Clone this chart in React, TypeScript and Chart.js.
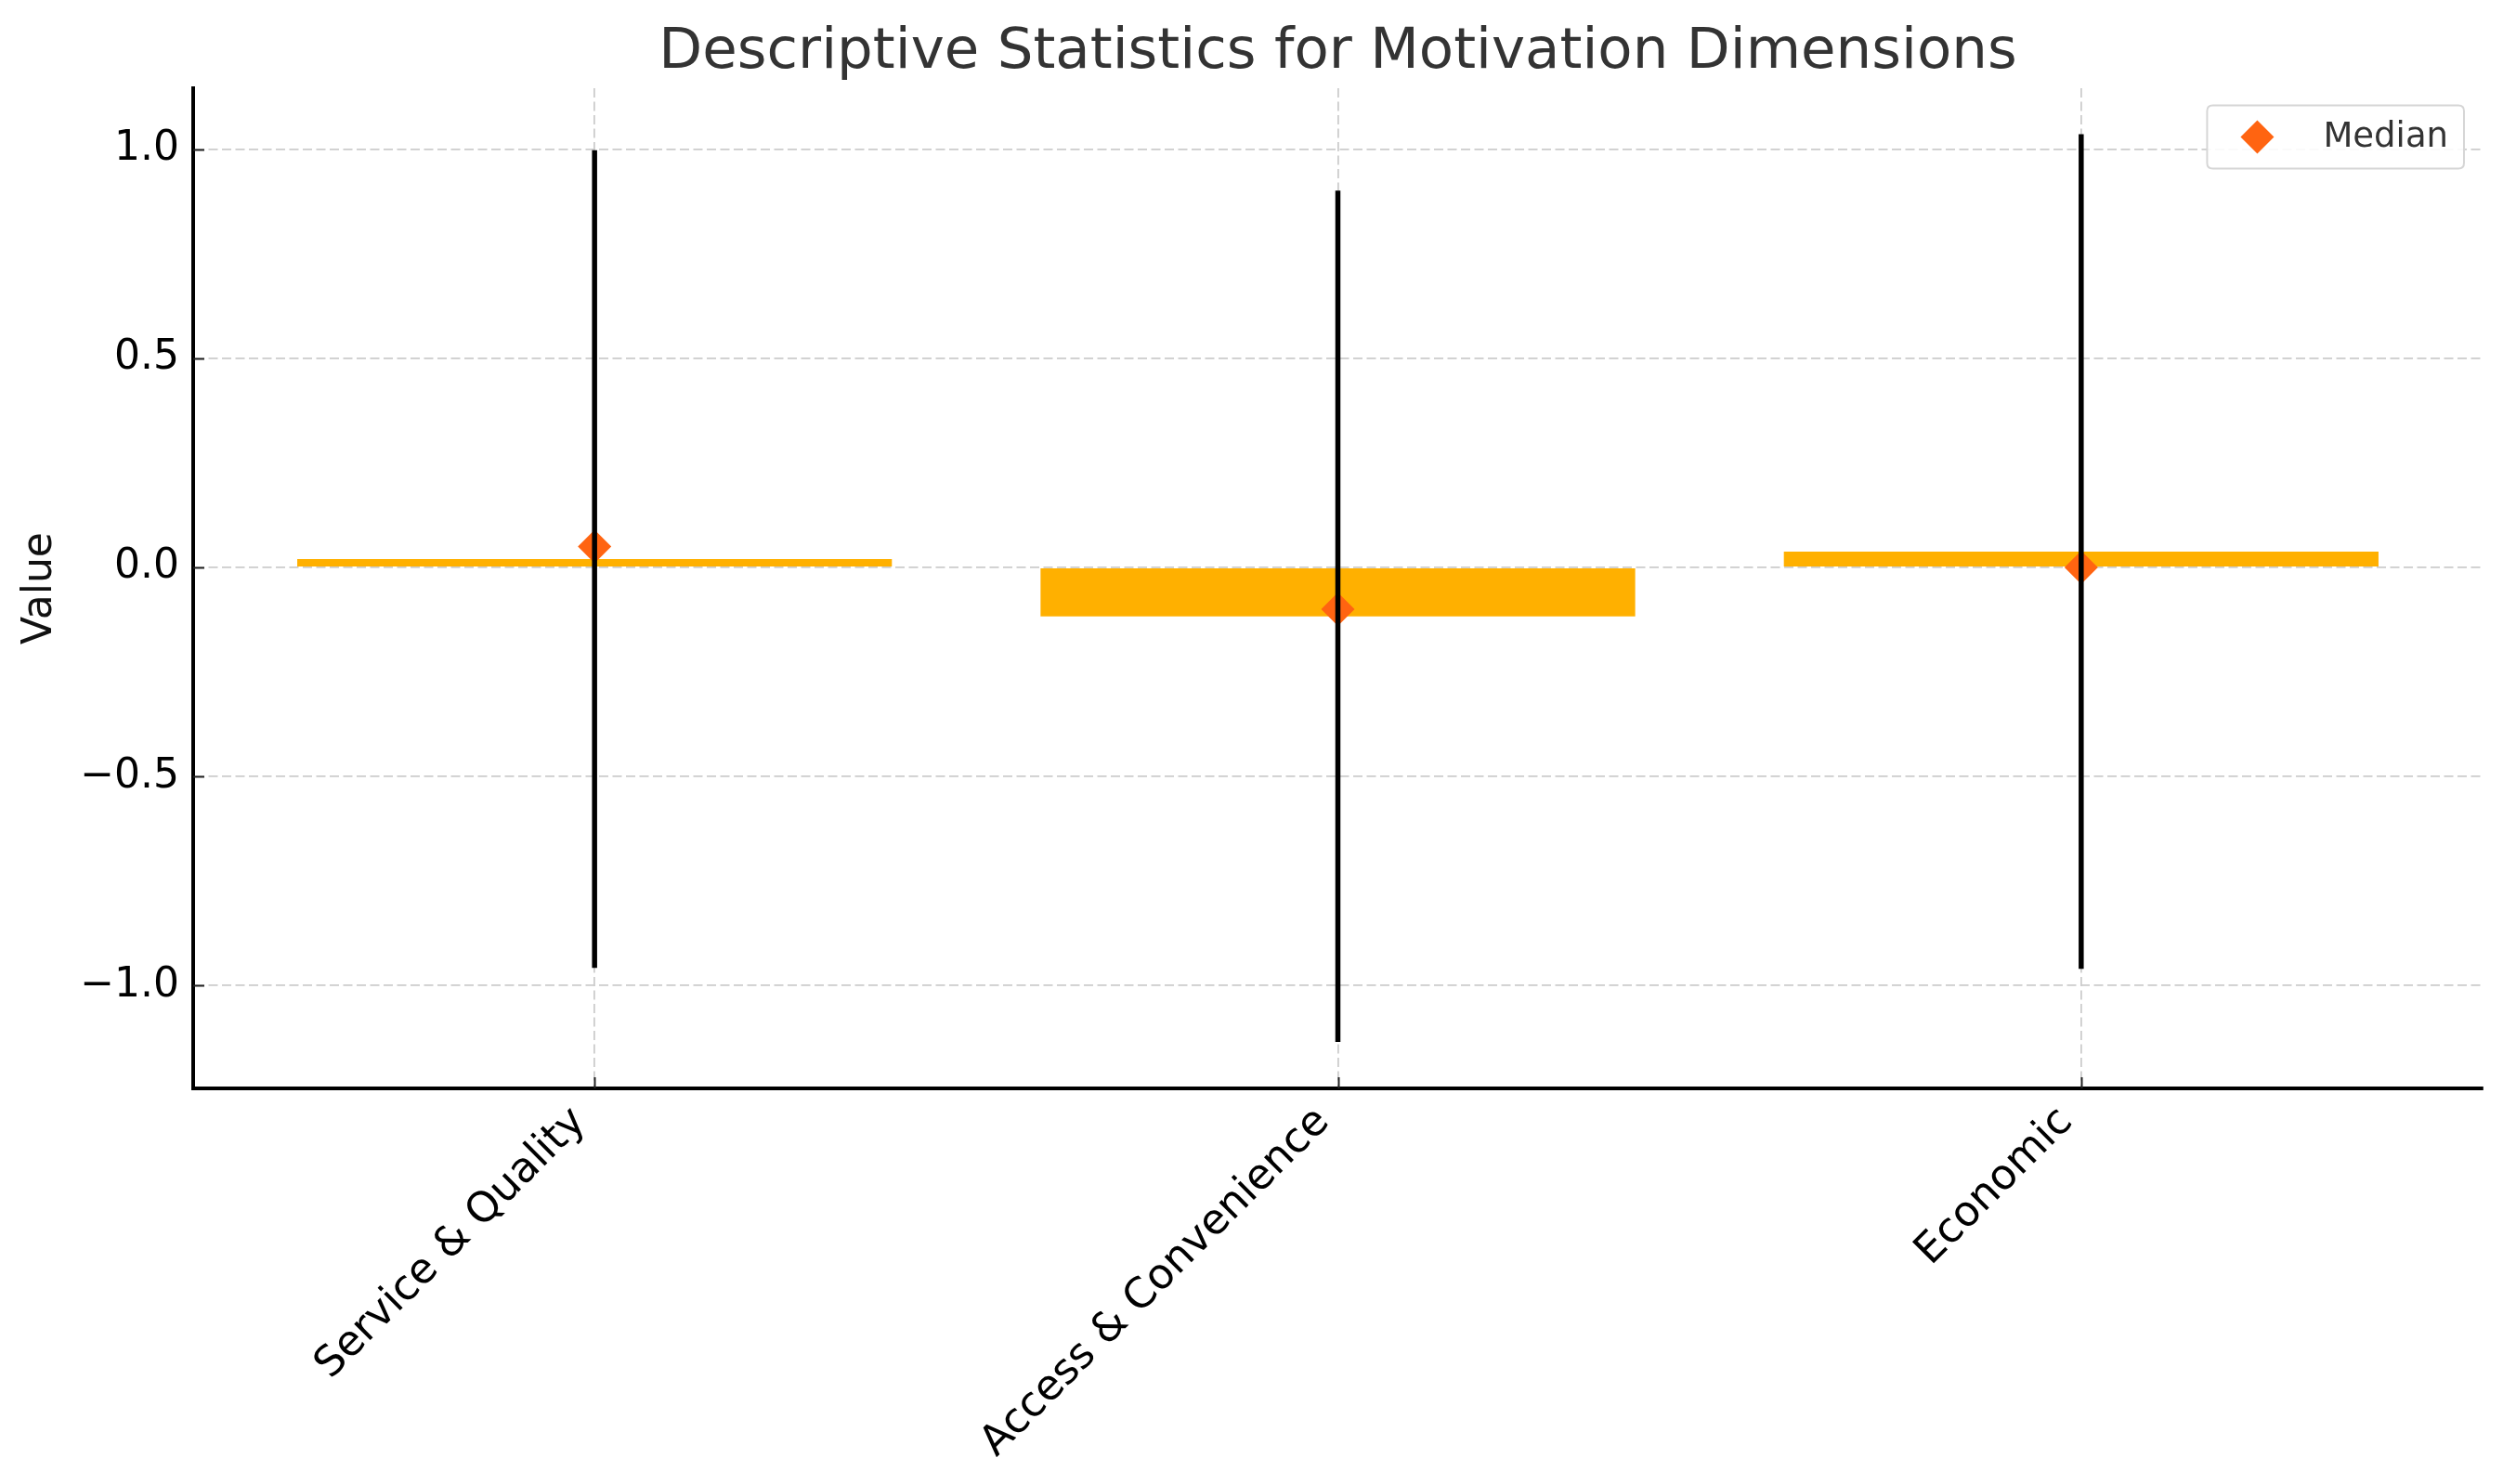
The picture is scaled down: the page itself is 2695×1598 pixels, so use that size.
import React, { useEffect, useRef } from 'react';
import { Chart, registerables } from 'chart.js';

Chart.register(...registerables);

// ---- data ----
const categories = ['Service & Quality', 'Access & Convenience', 'Economic'];
const means = [0.02, -0.117, 0.038];
const stdDevs = [0.978, 1.018, 0.998];
const medians = [0.05, -0.1, 0.0];
const xTickValues = [0, 1, 2];
const yTickValues = [-1.0, -0.5, 0.0, 0.5, 1.0];
const yTickLabels = ['\u22121.0', '\u22120.5', '0.0', '0.5', '1.0'];
const yLimits = [-1.246, 1.146];
const xLimits = [-0.54, 2.54];
const titleText = 'Descriptive Statistics for Motivation Dimensions';
const yAxisTitle = 'Value';
const medianLabel = 'Median';

const FONT = "'DejaVu Sans', sans-serif";

const decorPlugin = {
  id: 'decor',
  afterDraw(chart: any) {
    const ctx = chart.ctx;
    const area = chart.chartArea;
    ctx.save();

    // title centred over the plot area (matplotlib style)
    ctx.font = `61px ${FONT}`;
    ctx.fillStyle = '#333333';
    ctx.textAlign = 'center';
    ctx.textBaseline = 'middle';
    ctx.fillText(titleText, (area.left + area.right) / 2, 57);

    // inward tick marks
    ctx.strokeStyle = '#222';
    ctx.lineWidth = 2;
    const ys = chart.scales.y;
    ys.ticks.forEach((t: any) => {
      const p = Math.round(ys.getPixelForValue(t.value)) + 0.5;
      ctx.beginPath();
      ctx.moveTo(area.left, p);
      ctx.lineTo(area.left + 12, p);
      ctx.stroke();
    });
    const xs = chart.scales.x;
    xs.ticks.forEach((t: any) => {
      const p = Math.round(xs.getPixelForValue(t.value)) + 0.5;
      ctx.beginPath();
      ctx.moveTo(p, area.bottom);
      ctx.lineTo(p, area.bottom - 12);
      ctx.stroke();
    });

    // legend (matplotlib-like framed box)
    const ds = chart.data.datasets.find((d: any) => d.label === medianLabel);
    if (ds) {
      ctx.font = `37px ${FONT}`;
      const textW = ctx.measureText(ds.label).width;
      const boxW = 125 + textW + 17;
      const boxH = 68;
      const right = area.right - 20;
      const left = right - boxW;
      const top = area.top + 18.5;
      const r = 6;
      ctx.beginPath();
      ctx.moveTo(left + r, top);
      ctx.lineTo(left + boxW - r, top);
      ctx.quadraticCurveTo(left + boxW, top, left + boxW, top + r);
      ctx.lineTo(left + boxW, top + boxH - r);
      ctx.quadraticCurveTo(left + boxW, top + boxH, left + boxW - r, top + boxH);
      ctx.lineTo(left + r, top + boxH);
      ctx.quadraticCurveTo(left, top + boxH, left, top + boxH - r);
      ctx.lineTo(left, top + r);
      ctx.quadraticCurveTo(left, top, left + r, top);
      ctx.closePath();
      ctx.fillStyle = 'rgba(255,255,255,0.9)';
      ctx.fill();
      ctx.strokeStyle = '#d6d6d6';
      ctx.lineWidth = 2;
      ctx.stroke();

      const cx = left + 54;
      const cy = top + boxH / 2;
      const rad = ds.pointRadius;
      ctx.beginPath();
      ctx.moveTo(cx - rad, cy);
      ctx.lineTo(cx, cy - rad);
      ctx.lineTo(cx + rad, cy);
      ctx.lineTo(cx, cy + rad);
      ctx.closePath();
      ctx.fillStyle = ds.backgroundColor;
      ctx.fill();

      ctx.fillStyle = '#333';
      ctx.textAlign = 'left';
      ctx.textBaseline = 'middle';
      ctx.fillText(ds.label, left + 125, cy + 1);
    }
    ctx.restore();
  },
};

export default function App() {
  const canvasRef = useRef<HTMLCanvasElement | null>(null);

  useEffect(() => {
    if (!canvasRef.current) return;
    Chart.defaults.font.family = FONT;

    const barData = means.map((m, i) => ({ x: xTickValues[i], y: m }));
    const medianData = medians.map((m, i) => ({ x: xTickValues[i], y: m }));
    const errorSets = categories.map((c, i) => ({
      type: 'line' as const,
      label: `SD ${c}`,
      data: [
        { x: xTickValues[i], y: means[i] - stdDevs[i] },
        { x: xTickValues[i], y: means[i] + stdDevs[i] },
      ],
      borderColor: '#000000',
      borderWidth: 5.5,
      pointRadius: 0,
      fill: false,
      order: 1,
    }));

    const chart = new Chart(canvasRef.current, {
      type: 'bar',
      data: {
        datasets: [
          {
            type: 'bar',
            label: 'Mean',
            data: barData,
            backgroundColor: '#ffb000',
            borderWidth: 0,
            categoryPercentage: 0.8,
            barPercentage: 1.0,
            order: 3,
          } as any,
          {
            type: 'scatter',
            label: medianLabel,
            data: medianData,
            pointStyle: 'rectRot',
            pointRadius: 18,
            backgroundColor: '#ff6411',
            borderWidth: 0,
            order: 2,
          } as any,
          ...(errorSets as any[]),
        ],
      },
      options: {
        responsive: false,
        animation: false,
        devicePixelRatio: 1,
        layout: { padding: { left: 0, right: 22, top: 95, bottom: 0 } },
        plugins: {
          legend: { display: false },
          tooltip: { enabled: false },
          title: { display: false },
        },
        scales: {
          x: {
            type: 'linear',
            min: xLimits[0],
            max: xLimits[1],
            offset: false,
            grid: {
              display: true,
              offset: false,
              color: '#cccccc',
              lineWidth: 1.8,
              drawTicks: false,
            },
            border: { display: true, color: '#000', width: 4, dash: [10, 4.5] },
            afterBuildTicks: (s: any) => {
              s.ticks = xTickValues.map((v) => ({ value: v }));
            },
            afterFit: (s: any) => {
              s.height = 426;
            },
            ticks: {
              autoSkip: false,
              minRotation: 45,
              maxRotation: 45,
              padding: 10,
              labelOffset: -16,
              color: '#000',
              font: { size: 45, family: FONT },
              callback: (v: any) => categories[xTickValues.indexOf(Number(v))] ?? '',
            },
          },
          y: {
            type: 'linear',
            min: yLimits[0],
            max: yLimits[1],
            grid: {
              display: true,
              color: '#cccccc',
              lineWidth: 1.8,
              drawTicks: false,
            },
            border: { display: true, color: '#000', width: 4, dash: [10, 4.5] },
            afterBuildTicks: (s: any) => {
              s.ticks = yTickValues.map((v) => ({ value: v }));
            },
            afterFit: (s: any) => {
              s.width = 208;
            },
            title: {
              display: true,
              text: yAxisTitle,
              color: '#111',
              font: { size: 44, family: FONT },
              padding: { top: 17, bottom: 0 },
            },
            ticks: {
              padding: 15,
              color: '#000',
              font: { size: 44, family: FONT },
              callback: (v: any) => {
                const idx = yTickValues.findIndex((t) => Math.abs(t - Number(v)) < 1e-9);
                return idx >= 0 ? yTickLabels[idx] : '';
              },
            },
          },
        },
      } as any,
      plugins: [decorPlugin],
    });

    return () => chart.destroy();
  }, []);

  return (
    <div style={{ position: 'absolute', left: 0, top: 0, width: 2695, height: 1598, background: '#fff' }}>
      <canvas ref={canvasRef} width={2695} height={1598} style={{ display: 'block' }} />
    </div>
  );
}
